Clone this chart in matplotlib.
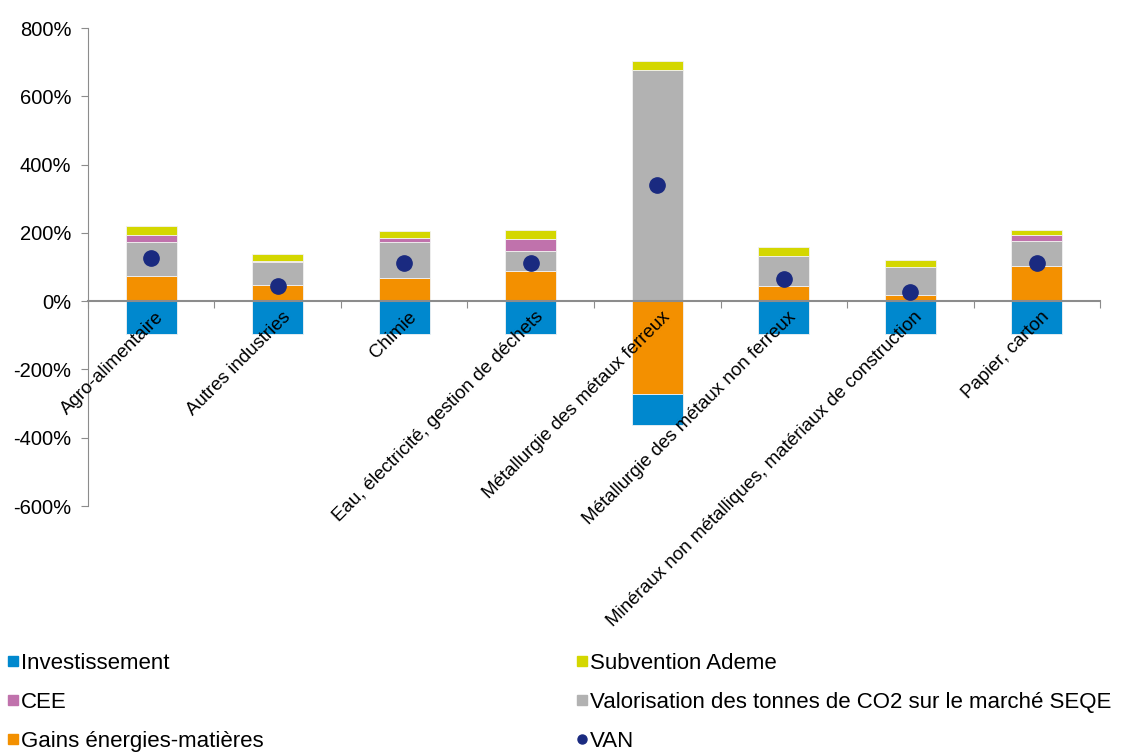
import matplotlib
matplotlib.use("Agg")
import matplotlib.pyplot as plt
from matplotlib.lines import Line2D
import numpy as np

plt.rcParams["font.family"] = ["Liberation Sans", "DejaVu Sans"]

categories = [
    "Agro-alimentaire",
    "Autres industries",
    "Chimie",
    "Eau, électricité, gestion de déchets",
    "Métallurgie des métaux ferreux",
    "Métallurgie des métaux non ferreux",
    "Minéraux non métalliques, matériaux de construction",
    "Papier, carton",
]
investissement = [-95, -95, -95, -95, -90, -95, -95, -95]
gains = [73, 47, 68, 89, -272, 44, 19, 104]
valorisation = [101, 67, 106, 59, 678, 89, 82, 72]
cee = [21, 4, 11, 34, 0, 0, 0, 17]
subvention = [25, 21, 20, 26, 26, 25, 19, 15]
van = [125, 43, 111, 113, 340, 64, 26, 113]

yticks = [800, 600, 400, 200, 0, -200, -400, -600]

c_inv = "#0088CE"
c_gains = "#F39000"
c_valo = "#B2B2B2"
c_cee = "#C072AC"
c_subv = "#D4D700"
c_van = "#1A2A80"

fig = plt.figure(figsize=(11.25, 7.53), dpi=100)
ax = fig.add_axes([0.0782, 0.328, 0.8996, 0.6348])

x = np.arange(len(categories))
pos_base = np.zeros(len(categories))
neg_base = np.zeros(len(categories))
# stacking order: gains, valorisation, CEE, subvention above; investissement below
for vals, col in [(gains, c_gains), (investissement, c_inv),
                  (valorisation, c_valo), (cee, c_cee), (subvention, c_subv)]:
    v = np.array(vals, dtype=float)
    bottom = np.where(v >= 0, pos_base, neg_base)
    ax.bar(x, v, 0.4, bottom=bottom, color=col, edgecolor="#f2f2f2",
           linewidth=0.6, zorder=2)
    pos_base = pos_base + np.where(v >= 0, v, 0)
    neg_base = neg_base + np.where(v < 0, v, 0)

ax.plot(x, van, "o", color=c_van, markersize=11, zorder=4)

ax.set_xlim(-0.5, len(categories) - 0.5)
ax.set_ylim(-600, 800)
ax.set_yticks(yticks)
ax.set_yticklabels([f"{v}%" for v in yticks], fontsize=14.5)

ax.spines["top"].set_visible(False)
ax.spines["right"].set_visible(False)
ax.spines["left"].set_color("#8c8c8c")
ax.spines["bottom"].set_position(("data", 0))
ax.spines["bottom"].set_color("#8c8c8c")
ax.spines["bottom"].set_linewidth(1.5)
ax.spines["bottom"].set_zorder(3)
ax.set_xticks(np.arange(-0.5, len(categories), 1.0))
ax.set_xticklabels([])
ax.tick_params(axis="x", direction="out", length=5, color="#8c8c8c")
ax.tick_params(axis="y", direction="out", length=5, color="#8c8c8c", pad=7)

for i, name in enumerate(categories):
    ax.text(i + 0.03, -22, name, rotation=45, rotation_mode="anchor",
            ha="right", va="top", fontsize=13.5, zorder=5)

def sq(col):
    return Line2D([], [], marker="s", linestyle="", color=col, markersize=6.5)

h1 = [sq(c_inv), sq(c_cee), sq(c_gains)]
l1 = ["Investissement", "CEE", "Gains énergies-matières"]
h2 = [sq(c_subv), sq(c_valo),
      Line2D([], [], marker="o", linestyle="", color=c_van, markersize=6.5)]
l2 = ["Subvention Ademe", "Valorisation des tonnes de CO2 sur le marché SEQE", "VAN"]

for hs, ls, xpos in [(h1, l1, 0.002), (h2, l2, 0.508)]:
    fig.legend(hs, ls, loc="upper left", bbox_to_anchor=(xpos, 0.14),
               frameon=False, fontsize=16, handlelength=0.45,
               handletextpad=0.15, labelspacing=0.8, borderpad=0.25,
               borderaxespad=0)

fig.savefig("out.png", dpi=100)
